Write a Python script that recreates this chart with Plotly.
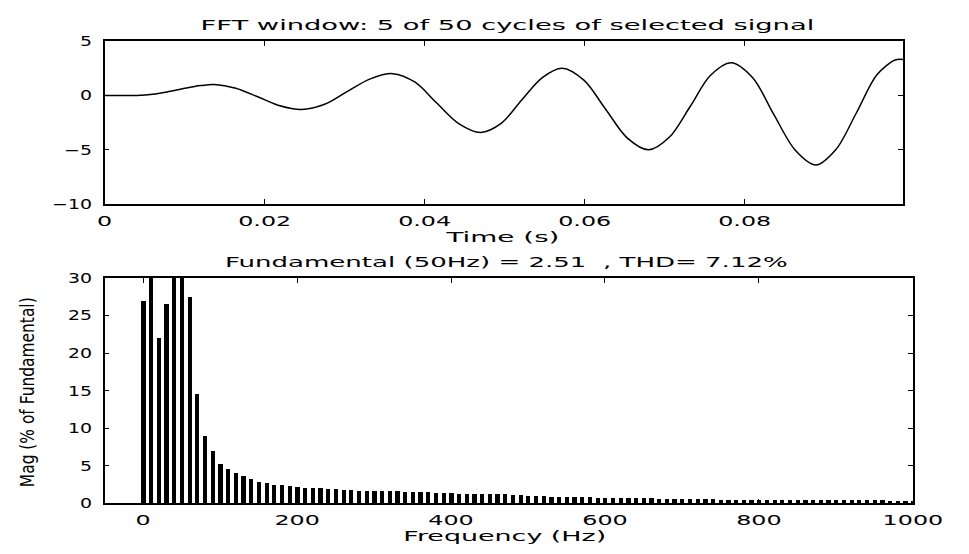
import json
import plotly.graph_objects as go

# ---- Top plot: time signal ----
time_s = [0.0, 0.002, 0.004, 0.006, 0.008, 0.010, 0.012, 0.0137,
          0.0164, 0.0192, 0.0219, 0.0246,
          0.0275, 0.0303, 0.0332, 0.0360,
          0.0388, 0.0415, 0.0443, 0.0470,
          0.0496, 0.0521, 0.0547, 0.0572,
          0.0599, 0.0626, 0.0653, 0.0680,
          0.0706, 0.0732, 0.0757, 0.0783,
          0.0810, 0.0836, 0.0863, 0.0889,
          0.0914, 0.0940, 0.0965, 0.0988, 0.0998]
signal = [0.0, 0.0, 0.0, 0.1, 0.35, 0.65, 0.9, 1.0,
          0.66, -0.15, -0.96, -1.3,
          -0.82, 0.35, 1.52, 2.0,
          1.21, -0.7, -2.61, -3.4,
          -2.54, -0.45, 1.64, 2.5,
          1.40, -1.25, -3.90, -5.0,
          -3.83, -1.0, 1.83, 3.0,
          1.62, -1.7, -5.02, -6.4,
          -4.98, -1.55, 1.88, 3.25, 3.3]

# ---- Bottom plot: harmonic spectrum, 10 Hz bins ----
freq_hz = list(range(0, 1001, 10))
mag_pct = [27.0, 45.0, 22.0, 26.5, 60.0, 100.0, 27.5, 14.5, 9.0, 7.0,
           5.3, 4.6, 4.0, 3.6, 3.3, 2.9, 2.7, 2.5, 2.4, 2.3,
           2.2, 2.1, 2.0, 2.0, 1.9, 1.9, 1.8, 1.8, 1.7, 1.7,
           1.7, 1.6, 1.6, 1.6, 1.5, 1.5, 1.5, 1.5, 1.4, 1.4,
           1.4, 1.3, 1.3, 1.3, 1.2, 1.2, 1.2, 1.2, 1.1, 1.1,
           1.0, 1.0, 1.0, 0.9, 0.9, 0.9, 0.8, 0.8, 0.8, 0.75,
           0.75, 0.7, 0.7, 0.7, 0.65, 0.65, 0.65, 0.6, 0.6, 0.6,
           0.6, 0.55, 0.55, 0.55, 0.55, 0.5, 0.5, 0.5, 0.5, 0.5,
           0.5, 0.45, 0.45, 0.45, 0.45, 0.45, 0.45, 0.45, 0.4, 0.4,
           0.4, 0.4, 0.4, 0.4, 0.4, 0.4, 0.4, 0.35, 0.35, 0.35, 0.35]

top_xticks = [0, 0.02, 0.04, 0.06, 0.08]
top_xticklabels = ["0", "0.02", "0.04", "0.06", "0.08"]
top_yticks = [-10, -5, 0, 5]
bot_xticks = [0, 200, 400, 600, 800, 1000]
bot_yticks = [0, 5, 10, 15, 20, 25, 30]

title_top = "FFT window: 5 of 50 cycles of selected signal"
title_bot = "Fundamental (50Hz) = 2.51  , THD= 7.12%"
xlabel_top = "Time (s)"
xlabel_bot = "Frequency (Hz)"
ylabel_bot = "Mag (% of Fundamental)"

W, H = 969, 554
FONT = "DejaVu Sans, Liberation Sans, Arial"

def px(x):
    return x / W

def py(y):
    return 1 - y / H

fig = go.Figure()
fig.add_trace(go.Scatter(x=time_s, y=signal, mode="lines",
                         line=dict(color="black", width=1.5, shape="spline", smoothing=0.9),
                         xaxis="x", yaxis="y", showlegend=False))
fig.add_trace(go.Bar(x=freq_hz, y=mag_pct, width=5.5,
                     marker=dict(color="black", line=dict(width=0)),
                     xaxis="x2", yaxis="y2", showlegend=False))

axis_common = dict(showline=True, linecolor="black", linewidth=1.5, mirror="ticks",
                   ticks="inside", ticklen=5, tickcolor="black", tickwidth=1,
                   showgrid=False, zeroline=False,
                   tickfont=dict(family=FONT, size=14, color="black"))

def ann(text, x, y, size=14, angle=0, family=FONT):
    return dict(text=text, x=px(x), y=py(y), xref="paper", yref="paper",
                xanchor="center", yanchor="middle", showarrow=False,
                textangle=angle, font=dict(family=family, size=size, color="black"))

fig.update_layout(
    width=W, height=H,
    margin=dict(l=0, r=0, t=0, b=0),
    paper_bgcolor="white", plot_bgcolor="white",
    xaxis=dict(domain=[px(103), px(920)], range=[0, 0.0998], anchor="y",
               tickvals=top_xticks, ticktext=top_xticklabels, ticklabelstandoff=3,
               **axis_common),
    yaxis=dict(domain=[py(202), py(34)], range=[-10, 5], anchor="x",
               tickvals=top_yticks, ticklabelstandoff=8, **axis_common),
    xaxis2=dict(domain=[px(103), px(930)], range=[-50, 1000], anchor="y2",
                tickvals=bot_xticks, ticklabelstandoff=3, **axis_common),
    yaxis2=dict(domain=[py(510), py(278)], range=[0, 30], anchor="x2",
                tickvals=bot_yticks, ticklabelstandoff=8, **axis_common),
    bargap=0,
    annotations=[
        ann(title_top, 515, 18),
        ann(xlabel_top, 510, 236),
        ann(title_bot, 514, 262),
        ann(xlabel_bot, 513, 544),
        ann(ylabel_bot, 23, 395, size=19, angle=-90),
    ],
)

# Reference glyphs are horizontally stretched (scanned MATLAB figure):
# widen text around its anchor point after rendering.
targets = {title_top: 614, xlabel_top: 115, title_bot: 563,
           xlabel_bot: 203, ylabel_bot: 190}

post = """
(function(){
  document.documentElement.style.margin = '0';
  document.documentElement.style.overflow = 'hidden';
  document.body.style.margin = '0';
  document.body.style.overflow = 'hidden';
  var gd = document.getElementById('{plot_id}');
  gd.style.position = 'fixed';
  gd.style.left = '0px';
  gd.style.top = '0px';
  var targets = __TARGETS__;
  gd.querySelectorAll('text').forEach(function(t){
    var s = (t.textContent || '').trim();
    var sx = null;
    if (t.closest('.annotation') && targets[s] !== undefined) {
      var w = t.getBBox().width;
      if (w > 0) sx = targets[s] / w;
    } else if (t.closest('.xtick, .x2tick')) {
      sx = 1.7;
    } else if (t.closest('.ytick, .y2tick')) {
      sx = 1.35;
    }
    if (!sx) return;
    var bb = t.getBBox();
    var anc = t.getAttribute('text-anchor') || 'start';
    var ax = bb.x + bb.width / 2;
    if (anc === 'start') ax = bb.x;
    if (anc === 'end') ax = bb.x + bb.width;
    var ay = bb.y + bb.height / 2;
    var old = t.getAttribute('transform') || '';
    t.setAttribute('transform', old + ' translate(' + ax + ',' + ay + ') scale(' + sx + ',1) translate(' + (-ax) + ',' + (-ay) + ')');
  });
})();
""".replace("__TARGETS__", json.dumps(targets))

fig.write_html("out.html", post_script=post, config={"displayModeBar": False})
